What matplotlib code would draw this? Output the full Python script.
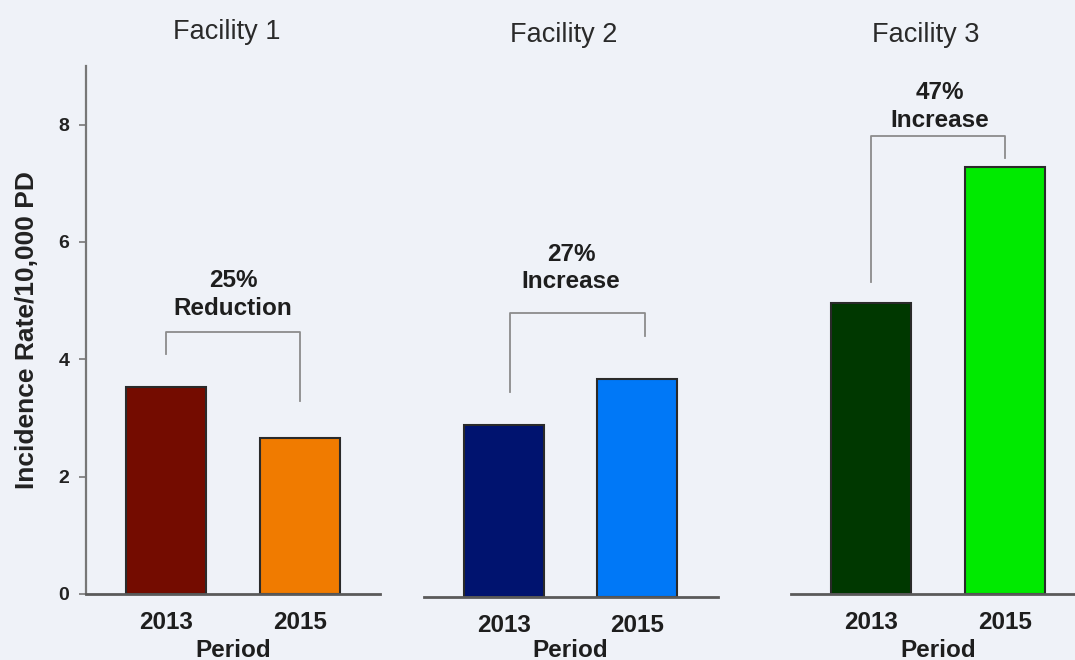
import matplotlib.pyplot as plt
from matplotlib.transforms import blended_transform_factory

plt.rcParams['font.family'] = ['Liberation Sans', 'DejaVu Sans']

# data
facilities = ['Facility 1', 'Facility 2', 'Facility 3']
periods = ['2013', '2015']
rate_2013 = [3.53, 2.93, 4.96]
rate_2015 = [2.66, 3.71, 7.27]
change_pct = ['25%', '27%', '47%']
change_word = ['Reduction', 'Increase', 'Increase']
yticks = [0, 2, 4, 6, 8]

colors_2013 = ['#740c00', '#00136f', '#003800']
colors_2015 = ['#f07b00', '#0078f7', '#00ea00']

# layout of each panel (figure fractions) and of the brackets (data units)
positions = [[0.080, 0.100, 0.2735, 0.80],
             [0.394, 0.0955, 0.2735, 0.80],
             [0.736, 0.100, 0.2735, 0.80]]
bracket_x = [(0.0, 1.0), (0.05, 1.06), (0.0, 1.0)]
bracket_y = [(4.09, 4.46, 3.29), (3.49, 4.84, 4.45), (5.32, 7.80, 7.43)]
text_y = [(5.35, 4.87), (5.83, 5.37), (8.55, 8.07)]
text_x = [0.5, 0.505, 0.51]
title_x = [0.45, 0.45, 0.41]
title_y = [0.952, 0.947, 0.947]
period_pad = [3.5, 1.5, 3.5]

bg = '#eff2f8'
fig = plt.figure(figsize=(10.75, 6.6), dpi=100, facecolor=bg)

for i in range(3):
    ax = fig.add_axes(positions[i])
    ax.set_facecolor('none')
    ax.bar([0, 1], [rate_2013[i], rate_2015[i]], width=0.6,
           color=[colors_2013[i], colors_2015[i]],
           edgecolor='#2a2a2a', linewidth=1.5, zorder=3)
    ax.set_xlim(-0.6, 1.6)
    ax.set_ylim(0, 9)

    for s in ['top', 'right']:
        ax.spines[s].set_visible(False)
    ax.spines['bottom'].set_color('#5a5a5a')
    ax.spines['bottom'].set_linewidth(2)
    ax.spines['bottom'].set_zorder(4)
    if i == 0:
        ax.spines['left'].set_color('#777777')
        ax.spines['left'].set_linewidth(1.6)
        ax.set_yticks(yticks)
        ax.tick_params(axis='y', length=5, width=1.2, color='#777777', pad=7,
                       labelsize=14)
        for lab in ax.get_yticklabels():
            lab.set_fontweight('bold')
            lab.set_color('#222222')
        ax.set_ylabel('Incidence Rate/10,000 PD', fontsize=19,
                      fontweight='bold', color='#222222', labelpad=14)
    else:
        ax.spines['left'].set_visible(False)
        ax.set_yticks([])

    ax.set_xticks([0, 1])
    ax.set_xticklabels(periods, fontsize=17.5, fontweight='bold', color='#1e1e1e')
    ax.tick_params(axis='x', length=0, pad=12)
    ax.set_xlabel('Period', fontsize=17.5, fontweight='bold', color='#1e1e1e',
                  labelpad=period_pad[i])

    # bracket
    xl, xr = bracket_x[i]
    yl, yt, yr = bracket_y[i]
    ax.plot([xl, xl, xr, xr], [yl, yt, yt, yr], color='#8c8c8c', lw=1.3,
            clip_on=False, zorder=2)
    ax.text(text_x[i], text_y[i][0], change_pct[i], ha='center', va='center',
            fontsize=17.5, fontweight='bold', color='#1e1e1e', clip_on=False)
    ax.text(text_x[i], text_y[i][1], change_word[i], ha='center', va='center',
            fontsize=17.5, fontweight='bold', color='#1e1e1e', clip_on=False)

    tr = blended_transform_factory(ax.transData, fig.transFigure)
    ax.text(title_x[i], title_y[i], facilities[i], transform=tr, ha='center',
            va='center', fontsize=19.5, color='#2a2a2a')

fig.savefig('out.png', dpi=100, facecolor=bg)
